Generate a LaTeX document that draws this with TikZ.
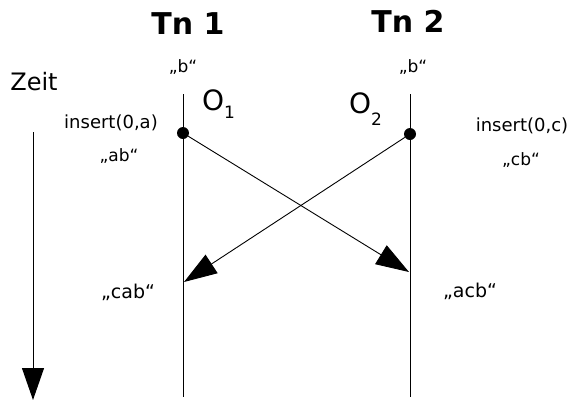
\documentclass[tikz,border=0pt]{standalone}
\usepackage{fontspec}
\setmainfont{DejaVu Sans}
\usetikzlibrary{arrows.meta,positioning}

\begin{document}
\begin{tikzpicture}[
  x=1pt, y=-1pt,
  font=\fontsize{18}{20}\selectfont,
  lbl/.style={anchor=base, inner sep=0pt},
  head/.style={lbl, font=\fontsize{30}{32}\selectfont\bfseries},
  opname/.style={anchor=base west, inner sep=0pt, font=\fontsize{28}{30}\selectfont},
  lifeline/.style={line width=1pt},
  arrow/.style={line width=0.9pt, -{Triangle[length=33pt, width=22pt]}},
  event/.style={circle, fill, inner sep=0pt, minimum size=12pt}
]
\useasboundingbox (0,0) rectangle (574,400);

% time axis
\node[lbl, font=\fontsize{24}{26}\selectfont] (zeit) at (34,90) {Zeit};
\coordinate (t0) at (33,132);
\coordinate (t1) at (33,400);
\draw[lifeline, -{Triangle[length=32pt, width=22pt]}] (t0) -- (t1);

% transactions
\node[head] (tn1) at (188,34) {Tn 1};
\node[head] (tn2) at (408,32) {Tn 2};
\node[lbl, font=\fontsize{17}{19}\selectfont] (b1) at (183,72) {„b“};
\node[lbl, font=\fontsize{17}{19}\selectfont] (b2) at (413,72) {„b“};

\coordinate (top1) at (183,94);
\coordinate (bot1) at (183,397);
\coordinate (top2) at (410,94);
\coordinate (bot2) at (410,397);
\draw[lifeline] (top1) -- (bot1);
\draw[lifeline] (top2) -- (bot2);

\node[opname] (o1) at (202,110) {O\raisebox{-8pt}{\fontsize{17}{17}\selectfont 1}};
\node[opname] (o2) at (349,113) {O\raisebox{-12pt}{\fontsize{17}{17}\selectfont 2}};

% operations
\node[event] (ev1) at (183,133) {};
\node[event] (ev2) at (410,134) {};
\node[lbl] (ins1) at (111,128) {insert(0,a)};
\node[lbl, font=\fontsize{17}{19}\selectfont] (ab) at (119,161) {„ab“};
\node[lbl] (ins2) at (522,131) {insert(0,c)};
\node[lbl, font=\fontsize{17}{19}\selectfont] (cb) at (521,165) {„cb“};

\coordinate (recv2) at (409,272);
\coordinate (recv1) at (184,282);
\draw[arrow] (ev1) -- (recv2);
\draw[arrow] (ev2) -- (recv1);

\node[lbl, font=\fontsize{19}{21}\selectfont] (cab) at (128,298) {„cab“};
\node[lbl, font=\fontsize{19}{21}\selectfont] (acb) at (470,297) {„acb“};
\end{tikzpicture}
\end{document}
